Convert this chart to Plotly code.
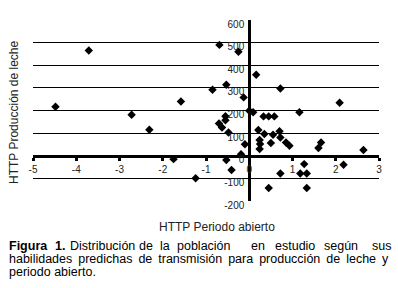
import plotly.graph_objects as go

# HTTP Periodo abierto (x) vs HTTP Producción de leche (y)
periodo_abierto = [-4.48, -3.71, -2.72, -2.31, -1.75, -1.58, -1.24, -0.85, -0.69, -0.70,
                   -0.63, -0.55, -0.55, -0.53, -0.48, -0.53, -0.41, -0.25, -0.13, -0.19,
                   -0.10, 0.00, 0.09, 0.16, 0.21, 0.24, 0.25, 0.24, 0.33, 0.45,
                   0.58, 0.35, 0.55, 0.70, 0.72, 0.50, 0.85, 0.93, 0.72, 1.16,
                   0.45, 0.72, 1.18, 1.27, 1.33, 1.33, 1.60, 1.66, 2.09, 2.18, 2.64]
produccion_leche = [217, 465, 181, 115, -15, 240, -99, 292, 490, 143,
                    125, 175, 157, 314, 103, -19, -63, 460, 258, 7,
                    51, 199, 192, 358, 114, 70, 52, 30, 174, 174,
                    174, 96, 93, 108, 81, 56, 59, 44, 297, 192,
                    -143, -78, -78, -37, -78, -143, 34, 59, 234, -40, 25]

x_ticks = [-5, -4, -3, -2, -1, 0, 1, 2, 3]
y_ticks = [-200, -100, 0, 100, 200, 300, 400, 500, 600]

x_title = "HTTP Periodo abierto"
y_title = "HTTP Producción de leche"
caption_line1_words = ["<b>Figura</b>", "<b>1.</b>", "Distribución", "de", "la", "población",
                       "en", "estudio", "según", "sus"]
caption_line2 = "habilidades predichas de transmisión para producción de leche y"
caption_line3 = "periodo abierto."

W, H = 398, 288
ml, mr, mt, mb = 33, 19, 20, 87

fig = go.Figure()
fig.add_trace(go.Scatter(
    x=periodo_abierto, y=produccion_leche, mode="markers",
    marker=dict(symbol="diamond", size=6.5, color="black"),
    showlegend=False, hoverinfo="skip"))

tickfont = dict(family="Liberation Sans, Arial, sans-serif", size=10, color="#222")

fig.update_xaxes(
    range=[-5, 3], tickvals=x_ticks, ticktext=[str(v) for v in x_ticks],
    showgrid=False, zeroline=False, showline=True, linecolor="black", linewidth=3,
    anchor="free", position=0.25, ticks="outside", ticklen=3, tickwidth=3,
    tickcolor="black", tickfont=tickfont, automargin=False)
fig.update_yaxes(
    range=[-200, 600], tickvals=y_ticks, ticktext=[str(v) for v in y_ticks],
    showgrid=True, gridcolor="black", gridwidth=1, zeroline=False,
    showline=True, linecolor="black", linewidth=3,
    anchor="free", position=0.625, ticks="", tickfont=tickfont,
    ticklabelshift=4, ticklabelstandoff=2, automargin=False)

title_font = dict(family="Liberation Sans, Arial, sans-serif", size=12, color="#222")
cap_font = dict(family="Liberation Sans, Arial, sans-serif", size=12.5, color="black")
ann = []
ann.append(dict(text=x_title, x=217, y=H - 227, xanchor="center",
                showarrow=False, font=title_font))
ann.append(dict(text=y_title, x=14, y=H - 112, textangle=-90, xanchor="center",
                showarrow=False, font=title_font))
word_x = [7, 53, 68, 137, 158, 175, 249, 273, 322, 370]
for w, xp in zip(caption_line1_words, word_x):
    ann.append(dict(text=w, x=xp, y=H - 246, xanchor="left", showarrow=False, font=cap_font))
# justified second line: widen each word gap with a thin space
line2_text = " \u2009".join(caption_line2.split(" "))
ann.append(dict(text=line2_text, x=7, y=H - 259, xanchor="left", showarrow=False, font=cap_font))
ann.append(dict(text=caption_line3, x=7, y=H - 272, xanchor="left", showarrow=False, font=cap_font))

# convert pixel positions to paper coordinates
pw, ph = W - ml - mr, H - mt - mb
for a in ann:
    a["x"] = (a["x"] - ml) / pw
    a["y"] = (a["y"] - mb) / ph
    a["xref"] = "paper"
    a["yref"] = "paper"
    a.setdefault("yanchor", "middle")

fig.update_layout(
    width=W, height=H, margin=dict(l=ml, r=mr, t=mt, b=mb),
    paper_bgcolor="white", plot_bgcolor="white", annotations=ann)

fig.write_html("out.html", config={"displayModeBar": False},
               post_script="document.body.style.margin='0';document.body.style.padding='0';")
